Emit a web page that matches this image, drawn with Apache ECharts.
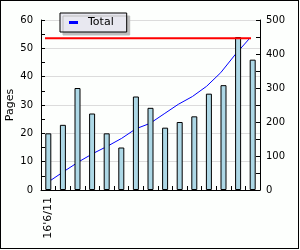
<!DOCTYPE html>
<html>
<head>
<meta charset="utf-8">
<script src="https://cdn.jsdelivr.net/npm/echarts@6/dist/echarts.min.js"></script>
<style>
html,body{margin:0;padding:0;background:#fdfffd;}
#frame{box-sizing:border-box;width:299px;height:249px;border:1px solid #000;position:relative;background:#fdfffd;}
#chart{position:absolute;left:-1px;top:-1px;width:300px;height:250px;}
</style>
</head>
<body>
<div id="frame"><div id="chart"></div></div>
<script>
// ---- data ----
var categories = ["16'6/11", '', '', '', '', '', '', '', '', '', '', '', '', '', ''];
var pages = [20, 23, 36, 27, 20, 15, 33, 29, 22, 24, 26, 34, 37, 54, 46];
var totalLine = [29, 57, 84, 108, 129, 152, 180, 196, 224, 252, 275, 305, 345, 397, 444];
var targetValues = [446, 446];
var leftTicks = [0, 10, 20, 30, 40, 50, 60];
var rightTicks = [0, 100, 200, 300, 400, 500];

var font = 'DejaVu Sans';
var chart = echarts.init(document.getElementById('chart'), null, {renderer: 'canvas'});
var idx = categories.map(function (_, i) { return i; });
var gridBase = {top: 20, bottom: 60, containLabel: false, outerBoundsMode: 'none'};

chart.setOption({
  backgroundColor: 'transparent',
  animation: false,
  grid: [
    Object.assign({left: 41, right: 40}, gridBase),
    Object.assign({left: 51, right: 51}, gridBase),
    Object.assign({left: 45, right: 49}, gridBase)
  ],
  legend: {
    data: [{name: 'Total', icon: 'rect'}],
    left: 60, top: 13,
    itemWidth: 9, itemHeight: 3, itemGap: 0,
    padding: [4, 13, 4, 9],
    backgroundColor: '#e8e8f0',
    borderColor: '#000', borderWidth: 1, borderRadius: 0,
    shadowColor: '#bdbdbd', shadowBlur: 0, shadowOffsetX: 3, shadowOffsetY: 3,
    textStyle: {fontFamily: font, fontSize: 11, color: '#000', padding: [0, 0, 0, 5]}
  },
  xAxis: [
    {
      type: 'category', gridIndex: 0, data: categories, boundaryGap: true,
      axisLine: {lineStyle: {color: '#000', width: 1}},
      axisTick: {show: true, inside: true, length: 4, interval: 0, lineStyle: {color: '#000'}},
      axisLabel: {interval: 0, rotate: 90, fontFamily: font, fontSize: 11, color: '#000', margin: 7},
      splitLine: {show: false}
    },
    {type: 'category', gridIndex: 1, data: idx, boundaryGap: false, show: false},
    {type: 'category', gridIndex: 2, data: [0, 1], boundaryGap: false, show: false}
  ],
  yAxis: [
    {
      type: 'value', gridIndex: 0, min: leftTicks[0], max: leftTicks[leftTicks.length - 1], interval: 10,
      name: 'Pages', nameLocation: 'middle', nameGap: 25, nameRotate: 90, nameMoveOverlap: false,
      nameTextStyle: {fontFamily: font, fontSize: 11, color: '#000'},
      axisLine: {show: true, lineStyle: {color: '#000'}},
      axisTick: {show: true, inside: true, length: 4, lineStyle: {color: '#000'}},
      minorTick: {show: true, splitNumber: 2, length: 4, lineStyle: {color: '#000'}},
      axisLabel: {fontFamily: font, fontSize: 10, color: '#000', margin: 8},
      splitLine: {show: true, lineStyle: {color: '#dcdcdc', width: 1}}
    },
    {
      type: 'value', gridIndex: 0, position: 'right', min: rightTicks[0], max: rightTicks[rightTicks.length - 1], interval: 100,
      axisLine: {show: true, lineStyle: {color: '#000'}},
      axisTick: {show: true, inside: true, length: 4, lineStyle: {color: '#000'}},
      minorTick: {show: true, splitNumber: 2, length: 4, lineStyle: {color: '#000'}},
      axisLabel: {fontFamily: font, fontSize: 10, color: '#000', margin: 6},
      splitLine: {show: false}
    },
    {type: 'value', gridIndex: 1, min: 0, max: 500, show: false},
    {type: 'value', gridIndex: 2, min: 0, max: 500, show: false}
  ],
  series: [
    {
      name: 'Total', type: 'line', xAxisIndex: 1, yAxisIndex: 2, data: totalLine,
      showSymbol: false, symbol: 'none', z: 1,
      itemStyle: {color: '#0000ff'},
      lineStyle: {color: '#0000ff', width: 1}
    },
    {
      name: 'Pages', type: 'bar', xAxisIndex: 0, yAxisIndex: 0, data: pages,
      barWidth: 6, z: 2,
      itemStyle: {color: '#add8e6', borderColor: '#000', borderWidth: 1}
    },
    {
      name: 'Target', type: 'line', xAxisIndex: 2, yAxisIndex: 3, data: targetValues,
      showSymbol: false, symbol: 'none', z: 3,
      lineStyle: {color: '#ff0000', width: 2}
    }
  ]
});
</script>
</body>
</html>
